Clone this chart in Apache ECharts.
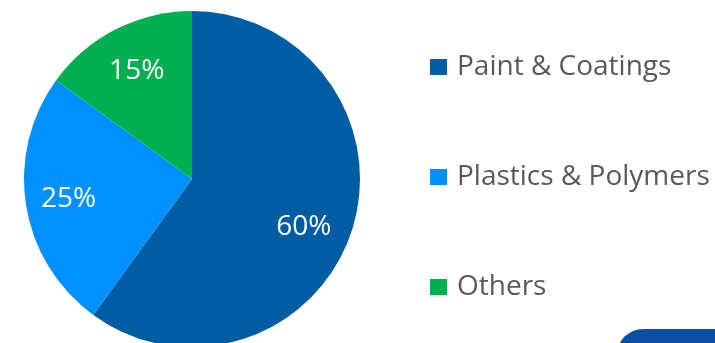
<!DOCTYPE html>
<html><head><meta charset="utf-8">
<script src="https://cdn.jsdelivr.net/npm/echarts@6/dist/echarts.min.js"></script>
<style>html,body{margin:0;padding:0;background:#fff}#c{width:715px;height:343px}</style>
</head><body><div id="c"></div>
<script>
const categories = ['Paint & Coatings', 'Plastics & Polymers', 'Others'];
const values = [60, 25, 15];
const colors = ['#005CA3', '#0090FF', '#00B050'];

const labelOffsets = [[-6, 10], [-1, 1], [1, 3]];
const chart = echarts.init(document.getElementById('c'), null, {renderer: 'canvas'});
const data = categories.map((n, i) => ({name: n, value: values[i], itemStyle: {color: colors[i]}}));
chart.setOption({
  animation: false,
  legend: {
    orient: 'vertical', left: 430, top: 52, padding: 0,
    itemWidth: 17, itemHeight: 16, itemGap: 80,
    icon: 'rect',
    textStyle: {fontFamily: 'Open Sans', fontSize: 28, color: '#595959', lineHeight: 30, padding: [0,0,0,5]},
    data: categories
  },
  graphic: [{
    type: 'rect', shape: {x: 617, y: 329, width: 120, height: 40, r: [26, 0, 0, 0]},
    style: {fill: '#0B4EA2'}, silent: true
  }],
  series: [{
    type: 'pie', center: [192, 179], radius: [0, 168],
    startAngle: 90, clockwise: true,
    label: {show: false}, labelLine: {show: false},
    itemStyle: {borderWidth: 0},
    emphasis: {disabled: true},
    data: data
  }, {
    type: 'pie', center: [192, 179], radius: [74, 168],
    startAngle: 90, clockwise: true, silent: true,
    itemStyle: {color: 'rgba(0,0,0,0)', borderWidth: 0},
    label: {show: true, position: 'inside', formatter: '{c}%', color: '#fff',
      fontFamily: 'Open Sans', fontSize: 28},
    labelLine: {show: false},
    emphasis: {disabled: true},
    legendHoverLink: false,
    data: categories.map((n, i) => ({name: n + ' ', value: values[i], label: {offset: labelOffsets[i]}}))
  }]
});
</script></body></html>
